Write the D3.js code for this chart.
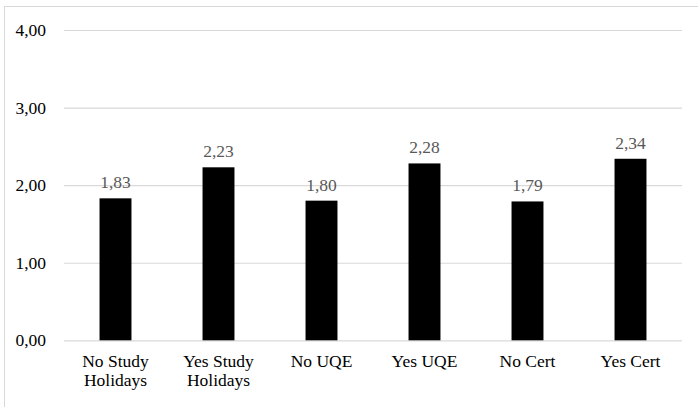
<!DOCTYPE html>
<html>
<head>
<meta charset="utf-8">
<script src="https://cdn.jsdelivr.net/npm/d3@7"></script>
<style>
  html, body { margin: 0; padding: 0; background: #fff; }
  svg { display: block; }
  text { font-family: "Liberation Serif", "Times New Roman", serif; }
</style>
</head>
<body>
<svg id="chart" width="698" height="407"></svg>
<script>
// Category labels (each may span two lines)
const categories = [
  ["No Study", "Holidays"],
  ["Yes Study", "Holidays"],
  ["No UQE"],
  ["Yes UQE"],
  ["No Cert"],
  ["Yes Cert"]
];
// Mean score per group
const values = [1.83, 2.23, 1.80, 2.28, 1.79, 2.34];
// Y axis ticks
const yTicks = [0, 1, 2, 3, 4];

const fmt = v => d3.format(".2f")(v).replace(".", ",");

const svg = d3.select("#chart");
const W = 698, H = 407;
const plot = { left: 64, right: 682, top: 30, bottom: 340.3 };
const fontSize = "17.5px";

// Outer chart frame
svg.append("rect")
  .attr("x", 4.5).attr("y", 6.5)
  .attr("width", W).attr("height", H)
  .attr("fill", "none").attr("stroke", "#d9d9d9").attr("stroke-width", 1);

const x = d3.scaleBand()
  .domain(categories.map((c, i) => i))
  .range([plot.left, plot.right])
  .paddingInner(0.69)
  .paddingOuter(0.345);

const y = d3.scaleLinear().domain([0, 4]).range([plot.bottom, plot.top]);

// Horizontal gridlines + tick labels
const yAxis = d3.axisLeft(y)
  .tickValues(yTicks)
  .tickSize(-(plot.right - plot.left))
  .tickPadding(18)
  .tickFormat(fmt);

const gy = svg.append("g")
  .attr("transform", `translate(${plot.left},0)`)
  .call(yAxis);
gy.select(".domain").remove();
gy.selectAll(".tick line").attr("stroke", "#d9d9d9").attr("stroke-width", 1.2);
gy.selectAll(".tick text")
  .attr("fill", "#000")
  .style("font-size", fontSize);

// Bars
svg.append("g").selectAll("rect")
  .data(values)
  .join("rect")
  .attr("x", (d, i) => x(i))
  .attr("y", d => y(d))
  .attr("width", x.bandwidth())
  .attr("height", d => y(0) - y(d))
  .attr("fill", "#000");

// Value labels above bars
svg.append("g").selectAll("text")
  .data(values)
  .join("text")
  .attr("x", (d, i) => x(i) + x.bandwidth() / 2)
  .attr("y", d => y(d) - 10)
  .attr("text-anchor", "middle")
  .attr("fill", "#595959")
  .style("font-size", fontSize)
  .text(d => fmt(d));

// Category labels
const gx = svg.append("g").selectAll("text")
  .data(categories)
  .join("text")
  .attr("text-anchor", "middle")
  .attr("fill", "#000")
  .style("font-size", fontSize)
  .attr("transform", (d, i) => `translate(${x(i) + x.bandwidth() / 2},${plot.bottom + 27})`);

gx.selectAll("tspan")
  .data(d => d)
  .join("tspan")
  .attr("x", 0)
  .attr("dy", (d, j) => j === 0 ? 0 : 19)
  .text(d => d);
</script>
</body>
</html>
